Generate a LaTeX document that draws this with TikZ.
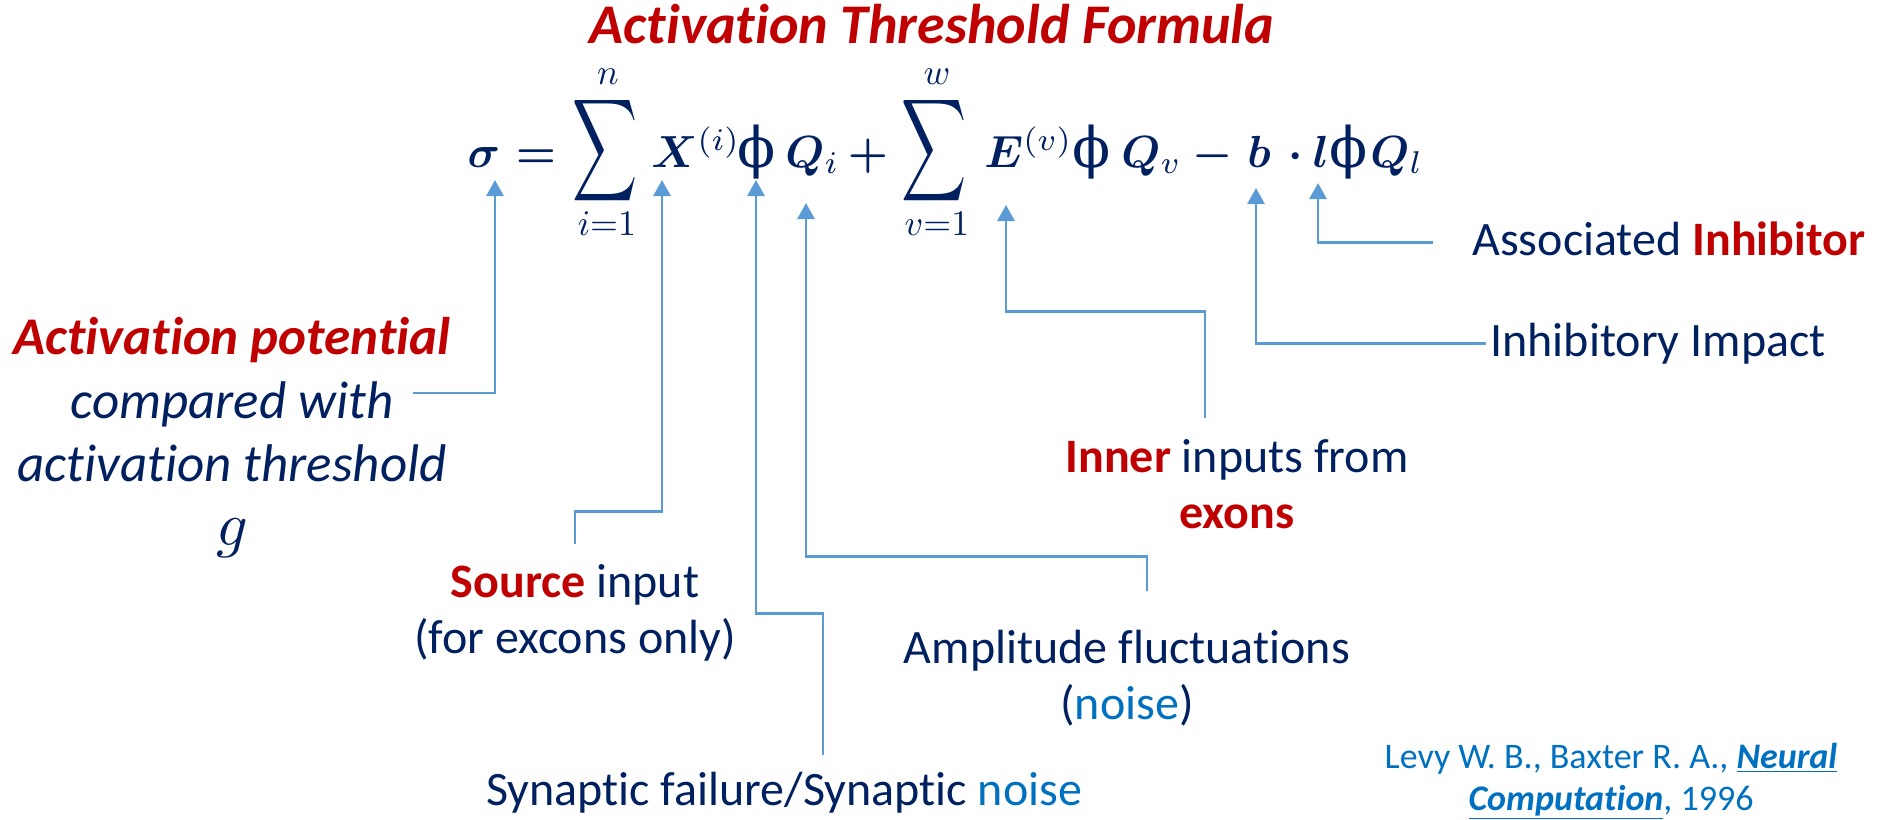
\documentclass[tikz,border=0pt]{standalone}
\usepackage{graphicx}
\usepackage[no-math]{fontspec}
\setmainfont{Carlito}[Ligatures=NoCommon]
\newfontfamily\phifont{DejaVu Serif}
\usetikzlibrary{arrows.meta, positioning, calc}

\definecolor{navy}{HTML}{002060}
\definecolor{darkred}{HTML}{C00000}
\definecolor{linkblue}{HTML}{0070C0}
\definecolor{arrowblue}{HTML}{5B9BD5}
\newcommand{\keyw}[1]{\textcolor{darkred}{\textbf{#1}}}
\newcommand{\nz}[1]{\textcolor{linkblue}{#1}}
% math is set at 10pt and scaled up
\newcommand{\mth}[2][2.25]{\scalebox{#1}{$#2$}}
\newcommand{\scr}[1]{\mbox{\unboldmath$\scriptstyle #1$}}
\newcommand{\bigsum}{\scalebox{2.26}[3.58]{$\displaystyle\sum$}}

\begin{document}
\begin{tikzpicture}[
    x=0.5pt, y=-0.5pt,
    fml/.style={inner sep=0pt, text=navy, anchor=base, font=\normalsize\boldmath},
    lim/.style={fml, font=\normalsize\unboldmath},
    phisym/.style={fml, font=\phifont\fontsize{28}{32}\selectfont},
    lbl/.style={inner sep=0pt, text=navy, align=center, anchor=base, font=\fontsize{24}{28}\selectfont},
    pointer/.style={draw=arrowblue, line width=1.4pt, -{Triangle[length=8pt, width=8.5pt]}}
]
    \useasboundingbox (0,0) rectangle (1877,819);

    % Title
    \node[lbl, text=darkred, font=\fontsize{28}{32}\selectfont\bfseries\itshape] (title) at (932,43) {Activation Threshold Formula};

    % Formula
    \node[fml] (sig) at (484,167) {\mth{\sigma}};
    \node[fml] (eq) at (536,167) {\mth{=}};
    \node[lim, anchor=center] (sumA) at (605,151) {\bigsum};
    \node[lim] (sumAtop) at (608,84) {\mth[1.8]{n}};
    \node[lim] (sumAbot) at (607,235) {\mth[1.8]{i{=}1}};
    \node[fml, anchor=base west] (X) at (651,167) {\mth{X^{\scr{(i)}}}};
    \node[phisym] (phiA) at (757,167) {ϕ};
    \node[fml, anchor=base west] (QA) at (785,167) {\mth{Q_{\scr{i}}}};
    \node[fml] (plus) at (868,167) {\mth{+}};
    \node[lim, anchor=center] (sumB) at (934,151) {\bigsum};
    \node[lim] (sumBtop) at (937,84) {\mth[1.8]{w}};
    \node[lim] (sumBbot) at (937,235) {\mth[1.8]{v{=}1}};
    \node[fml, anchor=base west] (E) at (984,167) {\mth{E^{\scr{(v)}}}};
    \node[phisym] (phiB) at (1092,167) {ϕ};
    \node[fml, anchor=base west] (QB) at (1121,167) {\mth{Q_{\scr{v}}}};
    \node[fml] (minus) at (1213,167) {\mth{-}};
    \node[fml] (b) at (1259,167) {\mth{b}};
    \node[fml] (dot) at (1296,167) {\mth{\cdot}};
    \node[fml] (l) at (1321,167) {\mth{l}};
    \node[phisym] (phiC) at (1349,167) {ϕ};
    \node[fml, anchor=base west] (QC) at (1370,167) {\mth{Q_{\scr{l}}}};

    % Labels
    \node[lbl, font=\fontsize{26.5}{31.7}\selectfont\itshape] (actPot) at (232,545)
        {\textcolor{darkred}{\textbf{Activation potential}}\\compared with\\activation threshold\\{\normalsize\mth[3.1]{g}}};
    \node[lbl] (src) at (575,653) {\keyw{Source} input\\(for excons only)};
    \node[lbl] (syn) at (784,805) {Synaptic failure/Synaptic \nz{noise}};
    \node[lbl] (amp) at (1127,719) {Amplitude fluctuations\\(\nz{noise})};
    \node[lbl] (inner) at (1237,528) {\keyw{Inner} inputs from\\\keyw{exons}};
    \node[lbl, anchor=base west] (impact) at (1490,356) {Inhibitory Impact};
    \node[lbl, anchor=base west] (assoc) at (1472,255) {Associated \keyw{Inhibitor}};
    \node[lbl, text=linkblue, font=\fontsize{18}{21}\selectfont] (cite) at (1611,810)
        {Levy W. B., Baxter R. A., \underline{\textbf{\textit{Neural}}}\\\underline{\textbf{\textit{Computation}}}, 1996};

    % Connectors
    \coordinate (sigFoot) at (413,393);
    \draw[pointer] (sigFoot) -| ($(sig.base)+(11,13)$);
    \draw[pointer] ([yshift=10pt]src.north) -- ++(0,-32) -| ($(X.base west)+(11,13)$);
    \draw[pointer] ([xshift=19.5pt, yshift=8pt]syn.north) -- ++(0,-142) -| ($(phiA.base)+(-1,13)$);
    \draw[pointer] ([xshift=10pt, yshift=19pt]amp.north) -- ++(0,-35) -| ($(QA.base west)+(21,36)$);
    \draw[pointer] ([xshift=-16pt, yshift=10.5pt]inner.north) -- ++(0,-106) -| ($(E.base west)+(22,38)$);
    \draw[pointer] ([xshift=-2pt]impact.west) -| ($(b.base)+(-3,21)$);
    \draw[pointer] ([xshift=-19.5pt, yshift=-2pt]assoc.west) -| ($(l.base)+(-3,16)$);

\end{tikzpicture}
\end{document}
